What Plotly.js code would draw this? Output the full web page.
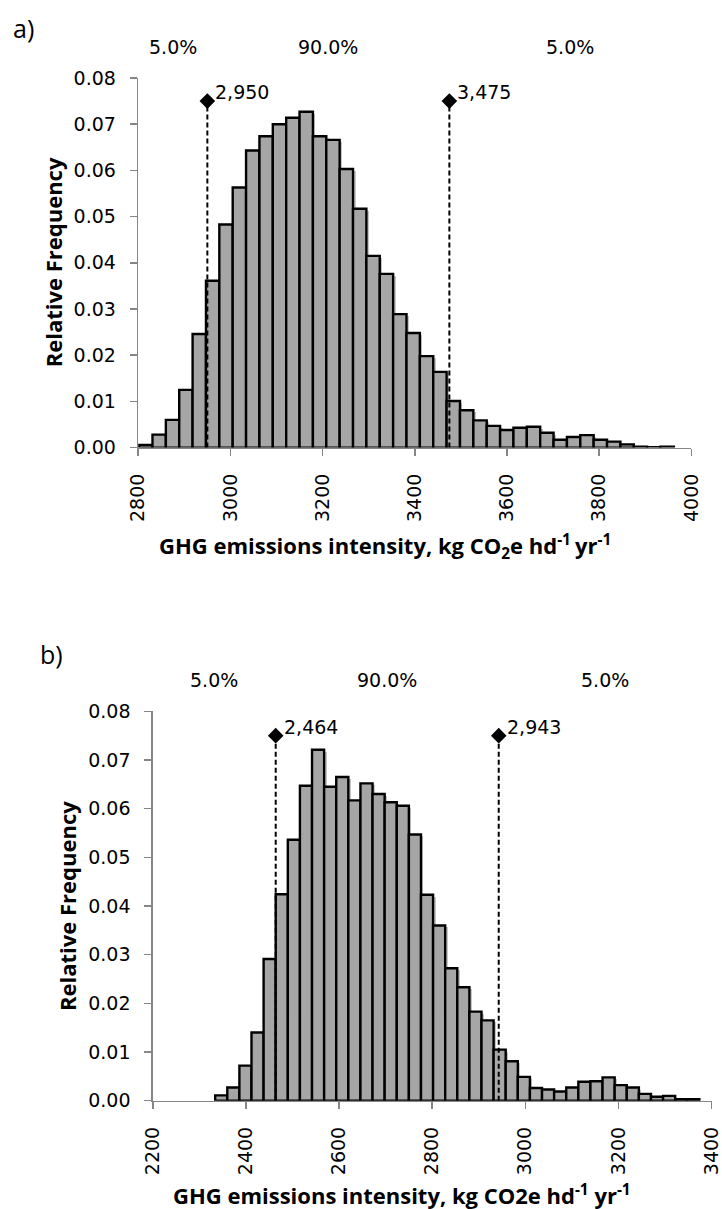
<!DOCTYPE html>
<html>
<head>
<meta charset="utf-8">
<script src="https://cdn.plot.ly/plotly-3.0.1.min.js"></script>
<style>
  html, body { margin: 0; padding: 0; background: #ffffff; }
  #chart { width: 722px; height: 1209px; }
</style>
</head>
<body>
<div id="chart"></div>
<script>
// ---------------- DATA ----------------
// Panel a) histogram: bin lower edges and relative frequencies
const topBinStart = [2802, 2831, 2860, 2889, 2918, 2947, 2976, 3005, 3034, 3063,
                     3092, 3121, 3150, 3179, 3208, 3237, 3266, 3295, 3324, 3353,
                     3382, 3411, 3440, 3469, 3498, 3527, 3556, 3585, 3614, 3643,
                     3672, 3701, 3730, 3759, 3788, 3817, 3846, 3875, 3904, 3933];
const topBinWidth = 29;
const topFreq = [0.0006, 0.0028, 0.0060, 0.0125, 0.0246, 0.0361, 0.0483, 0.0563, 0.0643, 0.0674,
                 0.0700, 0.0714, 0.0727, 0.0674, 0.0666, 0.0603, 0.0517, 0.0415, 0.0376, 0.0289,
                 0.0248, 0.0198, 0.0164, 0.0101, 0.0081, 0.0059, 0.0047, 0.0038, 0.0043, 0.0045,
                 0.0032, 0.0017, 0.0023, 0.0027, 0.0017, 0.0013, 0.0007, 0.0002, 0.0001, 0.0002];
const topQuantiles = [2950, 3475];
const topQuantileLabels = ["2,950", "3,475"];
const topRange = [2800, 4000];

// Panel b) histogram
const botBinStart = [2334, 2360, 2386, 2412, 2438, 2464, 2490, 2516, 2542, 2568,
                     2594, 2620, 2646, 2672, 2698, 2724, 2750, 2776, 2802, 2828,
                     2854, 2880, 2906, 2932, 2958, 2984, 3010, 3036, 3062, 3088,
                     3114, 3140, 3166, 3192, 3218, 3244, 3270, 3296, 3322, 3348];
const botBinWidth = 26;
const botFreq = [0.0011, 0.0027, 0.0072, 0.0140, 0.0291, 0.0424, 0.0536, 0.0647, 0.0721, 0.0645,
                 0.0665, 0.0617, 0.0652, 0.0630, 0.0613, 0.0606, 0.0547, 0.0423, 0.0360, 0.0272,
                 0.0233, 0.0183, 0.0165, 0.0105, 0.0081, 0.0049, 0.0026, 0.0023, 0.0019, 0.0027,
                 0.0039, 0.0040, 0.0048, 0.0032, 0.0027, 0.0014, 0.0008, 0.0010, 0.0003, 0.0003];
const botQuantiles = [2464, 2943];
const botQuantileLabels = ["2,464", "2,943"];
const botRange = [2200, 3400];

const quantileMarkerY = 0.075;
const shareLabels = ["5.0%", "90.0%", "5.0%"];
const yRange = [0, 0.08];
const panelLabels = ["a)", "b)"];
const xTitleTop = "<b>GHG emissions intensity, kg CO<sub>2</sub>e hd<sup>-1 </sup>yr<sup>-1</sup></b>";
const xTitleBot = "<b>GHG emissions intensity, kg CO2e hd<sup>-1</sup> yr<sup>-1</sup></b>";
const yTitle = "<b>Relative Frequency</b>";

// ---------------- STYLE / LAYOUT ----------------
const W = 722, H = 1209;
const NUM_FONT = "DejaVu Sans";
const TITLE_FONT = "Open Sans";
const AXIS_GRAY = "#868686";

// plot areas in pixels
const topBox = {x0: 138.2, x1: 691.4, y0: 78, y1: 447.6};
const botBox = {x0: 152.8, x1: 711.5, y0: 711.3, y1: 1100.7};

function dom(box) {
  return {
    x: [box.x0 / W, box.x1 / W],
    y: [1 - box.y1 / H, 1 - box.y0 / H]
  };
}

function panelTraces(binStart, binWidth, freq, quantiles, box, xRange, xa, ya) {
  const centers = binStart.map(s => s + binWidth / 2);
  const unitsPerPxX = (xRange[1] - xRange[0]) / (box.x1 - box.x0);
  const unitsPerPxY = (yRange[1] - yRange[0]) / (box.y1 - box.y0);
  const shadowDx = 2.5 * unitsPerPxX;
  const shadowDy = 2 * unitsPerPxY;
  const traces = [];
  traces.push({
    type: "bar", x: centers, y: freq.map(v => Math.max(v - shadowDy, 0)),
    width: binWidth, offset: -binWidth / 2 + shadowDx,
    marker: {color: "#c6c6c6", line: {width: 0}},
    xaxis: xa, yaxis: ya, hoverinfo: "skip", showlegend: false
  });
  traces.push({
    type: "bar", x: centers, y: freq, width: binWidth,
    marker: {color: "#a6a6a6", line: {color: "#000000", width: 2.4}},
    xaxis: xa, yaxis: ya, showlegend: false
  });
  quantiles.forEach(q => {
    traces.push({
      type: "scatter", mode: "lines", x: [q, q], y: [0, quantileMarkerY],
      line: {color: "#000000", width: 2, dash: "5px,3px"},
      xaxis: xa, yaxis: ya, showlegend: false, hoverinfo: "skip"
    });
  });
  traces.push({
    type: "scatter", mode: "markers", x: quantiles, y: quantiles.map(() => quantileMarkerY),
    marker: {symbol: "diamond", size: 12, color: "#000000"},
    xaxis: xa, yaxis: ya, showlegend: false
  });
  return traces;
}

function xAxis(box, range, anchor) {
  const d = dom(box);
  return {
    domain: d.x, range: range, anchor: anchor, dtick: 200, tick0: 0,
    tickangle: -90, tickformat: "d",
    showline: true, linecolor: AXIS_GRAY, linewidth: 1.5,
    ticks: "outside", ticklen: 7, tickwidth: 1.5, tickcolor: AXIS_GRAY,
    ticklabelstandoff: 10,
    showgrid: false, zeroline: false, automargin: false, fixedrange: true,
    tickfont: {family: NUM_FONT, size: 19, color: "#000"}
  };
}
function yAxis(box, anchor) {
  const d = dom(box);
  return {
    domain: d.y, range: yRange, anchor: anchor, dtick: 0.01, tick0: 0,
    tickformat: ".2f",
    showline: true, linecolor: AXIS_GRAY, linewidth: 1.5,
    ticks: "outside", ticklen: 7, tickwidth: 1.5, tickcolor: AXIS_GRAY,
    ticklabelstandoff: 10,
    showgrid: false, zeroline: false, automargin: false, fixedrange: true,
    tickfont: {family: NUM_FONT, size: 19, color: "#000"}
  };
}

const data = [].concat(
  panelTraces(topBinStart, topBinWidth, topFreq, topQuantiles, topBox, topRange, "x", "y"),
  panelTraces(botBinStart, botBinWidth, botFreq, botQuantiles, botBox, botRange, "x2", "y2")
);

const annotations = [];
function panelAnnotations(box, xRange, quantiles, qLabels, xa, ya, xTitle, xTitleCenter, xTitleY, yTitleX, panelLabel, panelPos) {
  // quantile value labels
  quantiles.forEach((q, i) => {
    annotations.push({
      xref: xa, yref: ya, x: q, y: quantileMarkerY, text: qLabels[i],
      showarrow: false, xanchor: "left", yanchor: "middle", xshift: 6, yshift: 9,
      font: {family: NUM_FONT, size: 19, color: "#000"}
    });
  });
  // share labels centred on each region
  const bounds = [xRange[0]].concat(quantiles, [xRange[1]]);
  shareLabels.forEach((t, i) => {
    annotations.push({
      xref: xa, yref: "paper", x: (bounds[i] + bounds[i + 1]) / 2,
      y: 1 - (box.y0 - 31) / H, text: t, showarrow: false,
      xanchor: "center", yanchor: "middle",
      font: {family: NUM_FONT, size: 19, color: "#000"}
    });
  });
  annotations.push({
    xref: "paper", yref: "paper", x: xTitleCenter / W, y: 1 - xTitleY / H,
    text: xTitle, showarrow: false, xanchor: "center", yanchor: "middle",
    font: {family: TITLE_FONT, size: 22, color: "#000"}
  });
  annotations.push({
    xref: "paper", yref: "paper", x: yTitleX / W, y: 1 - ((box.y0 + box.y1) / 2) / H,
    text: yTitle, textangle: -90, showarrow: false, xanchor: "center", yanchor: "middle",
    font: {family: TITLE_FONT, size: 22, color: "#000"}
  });
  annotations.push({
    xref: "paper", yref: "paper", x: panelPos[0] / W, y: 1 - panelPos[1] / H,
    text: panelLabel, showarrow: false, xanchor: "center", yanchor: "middle",
    font: {family: TITLE_FONT, size: 25, color: "#000"}
  });
}
panelAnnotations(topBox, topRange, topQuantiles, topQuantileLabels, "x", "y",
                 xTitleTop, 384.5, 547, 52.5, panelLabels[0], [23, 28]);
panelAnnotations(botBox, botRange, botQuantiles, botQuantileLabels, "x2", "y2",
                 xTitleBot, 401.5, 1194, 67, panelLabels[1], [51, 654]);

const layout = {
  width: W, height: H,
  margin: {l: 0, r: 0, t: 0, b: 0, pad: 0},
  paper_bgcolor: "#ffffff", plot_bgcolor: "rgba(0,0,0,0)",
  barmode: "overlay", bargap: 0,
  showlegend: false,
  font: {family: NUM_FONT, size: 19, color: "#000"},
  xaxis: xAxis(topBox, topRange, "y"),
  yaxis: yAxis(topBox, "x"),
  xaxis2: xAxis(botBox, botRange, "y2"),
  yaxis2: yAxis(botBox, "x2"),
  annotations: annotations
};

Plotly.newPlot("chart", data, layout, {staticPlot: true, displayModeBar: false});
</script>
</body>
</html>
